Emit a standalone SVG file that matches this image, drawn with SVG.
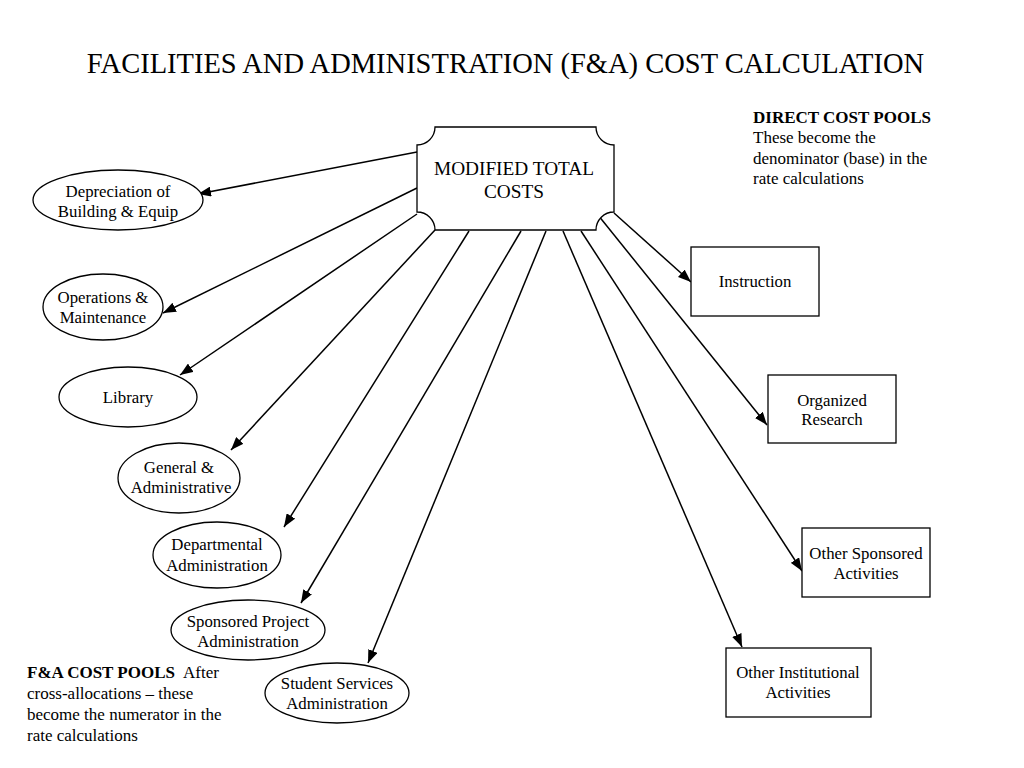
<svg xmlns="http://www.w3.org/2000/svg" width="1024" height="768" viewBox="0 0 1024 768">
<defs>
<style>
text{font-family:"Liberation Serif","Times New Roman",serif;fill:#000}
.t{font-size:16.8px;text-anchor:middle}
.b{font-weight:bold}
.shape{fill:#fff;stroke:#000;stroke-width:1.3}
.conn line{stroke:#000;stroke-width:1.5;marker-end:url(#ah)}
</style>
<marker id="ah" markerUnits="userSpaceOnUse" markerWidth="14" markerHeight="10" refX="13" refY="5" orient="auto">
<path d="M0,0 L13,5 L0,10 Z" fill="#000"/>
</marker>
</defs>
<rect width="1024" height="768" fill="#fff"/>
<text x="505.5" y="73" style="font-size:28.5px;text-anchor:middle">FACILITIES AND ADMINISTRATION (F&amp;A) COST CALCULATION</text>

<g id="connectors" class="conn">
<line x1="417" y1="152" x2="198" y2="194"/>
<line x1="417" y1="188" x2="163" y2="313"/>
<line x1="417" y1="214" x2="180" y2="375"/>
<line x1="435" y1="230" x2="231" y2="450"/>
<line x1="469" y1="231" x2="284" y2="527"/>
<line x1="521" y1="231" x2="301" y2="603"/>
<line x1="546" y1="231" x2="368" y2="663"/>
<line x1="563" y1="231" x2="742" y2="647"/>
<line x1="581" y1="231" x2="802" y2="571"/>
<line x1="598" y1="215" x2="767" y2="425"/>
<line x1="614" y1="213" x2="691" y2="282"/>
</g>

<g id="mtc">
<path class="shape" d="M435,127 H596 A18,18 0 0 0 614,145 V212 A18,18 0 0 0 596,230 H435 A18,18 0 0 0 417,212 V145 A18,18 0 0 0 435,127 Z"/>
<text class="t" x="514" y="175" style="font-size:19.3px">MODIFIED TOTAL</text>
<text class="t" x="514" y="198" style="font-size:19.3px">COSTS</text>
</g>

<g id="depreciation">
<ellipse class="shape" cx="118" cy="200" rx="85" ry="30"/>
<text class="t" x="118" y="197">Depreciation of</text>
<text class="t" x="118" y="217">Building &amp; Equip</text>
</g>
<g id="operations">
<ellipse class="shape" cx="103" cy="307" rx="60" ry="33"/>
<text class="t" x="103" y="303">Operations &amp;</text>
<text class="t" x="103" y="323">Maintenance</text>
</g>
<g id="library">
<ellipse class="shape" cx="128" cy="397" rx="69" ry="30"/>
<text class="t" x="128" y="403">Library</text>
</g>
<g id="general">
<ellipse class="shape" cx="179" cy="478" rx="61" ry="35"/>
<text class="t" x="179" y="473">General &amp;</text>
<text class="t" x="181" y="493">Administrative</text>
</g>
<g id="departmental">
<ellipse class="shape" cx="217" cy="555" rx="64" ry="33"/>
<text class="t" x="217" y="550">Departmental</text>
<text class="t" x="217" y="571">Administration</text>
</g>
<g id="sponsoredproject">
<ellipse class="shape" cx="248" cy="630" rx="77" ry="30"/>
<text class="t" x="248" y="627">Sponsored Project</text>
<text class="t" x="248" y="647">Administration</text>
</g>
<g id="studentservices">
<ellipse class="shape" cx="337" cy="693" rx="72" ry="30"/>
<text class="t" x="337" y="689">Student Services</text>
<text class="t" x="337" y="709">Administration</text>
</g>

<g id="instruction">
<rect class="shape" x="691" y="247" width="128" height="69"/>
<text class="t" x="755" y="287">Instruction</text>
</g>
<g id="research">
<rect class="shape" x="768" y="375" width="128" height="68"/>
<text class="t" x="832" y="406">Organized</text>
<text class="t" x="832" y="425">Research</text>
</g>
<g id="othersponsored">
<rect class="shape" x="802" y="528" width="128" height="69"/>
<text class="t" x="866" y="559">Other Sponsored</text>
<text class="t" x="866" y="579">Activities</text>
</g>
<g id="otherinstitutional">
<rect class="shape" x="726" y="648" width="145" height="69"/>
<text class="t" x="798" y="678">Other Institutional</text>
<text class="t" x="798" y="698">Activities</text>
</g>

<g id="directnote">
<text x="753" y="123" class="b" style="font-size:17px">DIRECT COST POOLS</text>
<text x="753" y="143" style="font-size:17px">These become the</text>
<text x="753" y="164" style="font-size:17px">denominator (base) in the</text>
<text x="753" y="184" style="font-size:17px">rate calculations</text>
</g>
<g id="fanote">
<text x="27" y="678" style="font-size:17px"><tspan font-weight="bold">F&amp;A COST POOLS</tspan><tspan dx="8">After</tspan></text>
<text x="27" y="699" style="font-size:17px">cross-allocations – these</text>
<text x="27" y="720" style="font-size:17px">become the numerator in the</text>
<text x="27" y="741" style="font-size:17px">rate calculations</text>
</g>
</svg>
